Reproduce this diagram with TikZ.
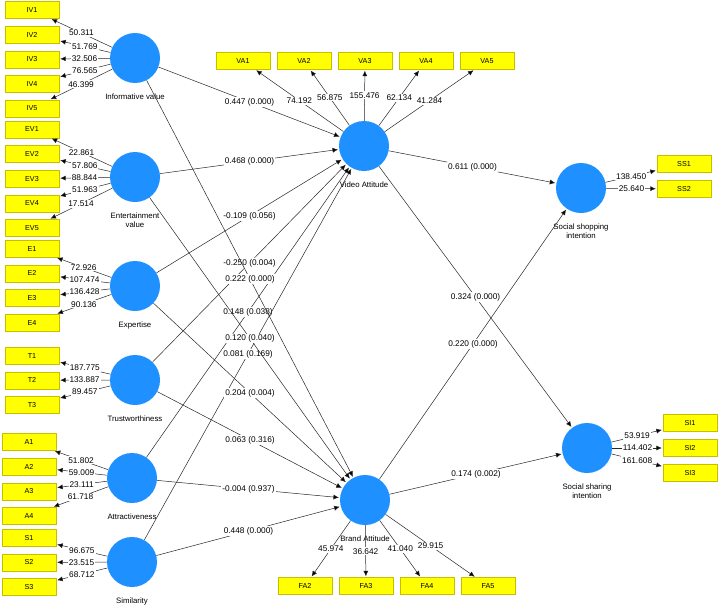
\documentclass[tikz,border=0pt]{standalone}
\usepackage{fontspec}
\setmainfont{Liberation Sans}
\usetikzlibrary{positioning, arrows.meta}

\definecolor{lvblue}{RGB}{30,144,255}
\definecolor{mvyellow}{RGB}{255,255,0}
\definecolor{mvedge}{RGB}{200,190,0}

\begin{document}
\begin{tikzpicture}[x=1pt, y=-1pt, node distance=24.6pt, on grid,
    shorten >=1pt, >={Latex[length=5.5pt,width=5pt]},
    lv/.style={circle, fill=lvblue, minimum size=50pt, inner sep=0pt, label distance=0pt},
    lvname/.style={font=\fontsize{7.8}{9.5}\selectfont, align=center, inner sep=1pt, yshift=-9pt},
    mv/.style={rectangle, fill=mvyellow, draw=mvedge, line width=0.4pt,
      minimum width=54pt, minimum height=17pt, inner sep=0pt, font=\fontsize{7.2}{8}\selectfont},
    coef/.style={fill=white, inner sep=1pt, font=\fontsize{8.3}{9}\selectfont}]
  \useasboundingbox (0,0) rectangle (719,605);

  % latent variables
  \node[lv, label={[lvname]below:Informative value}] (iv) at (135,58) {};
  \node[lv, label={[lvname]below:{Entertainment\\value}}] (ev) at (135,177) {};
  \node[lv, label={[lvname]below:Expertise}] (ex) at (135,286) {};
  \node[lv, label={[lvname]below:Trustworthiness}] (tr) at (135,380) {};
  \node[lv, label={[lvname]below:Attractiveness}] (at) at (132,478) {};
  \node[lv, label={[lvname]below:Similarity}] (sm) at (132,562) {};
  \node[lv, label={[lvname]below:Video Attitude}] (va) at (364,146) {};
  \node[lv, label={[lvname]below:Brand Attitude}] (ba) at (365,500) {};
  \node[lv, label={[lvname]below:{Social shopping\\intention}}] (ssi) at (581,188) {};
  \node[lv, label={[lvname]below:{Social sharing\\intention}}] (shi) at (587,448) {};

  % indicators
  \node[mv] (iv1) at (32,10) {IV1};
  \node[mv] (iv2) [below=of iv1] {IV2};
  \node[mv] (iv3) [below=of iv2] {IV3};
  \node[mv] (iv4) [below=of iv3] {IV4};
  \node[mv] (iv5) [below=of iv4] {IV5};
  \node[mv] (ev1) [below=21pt of iv5] {EV1};
  \node[mv] (ev2) [below=of ev1] {EV2};
  \node[mv] (ev3) [below=of ev2] {EV3};
  \node[mv] (ev4) [below=of ev3] {EV4};
  \node[mv] (ev5) [below=of ev4] {EV5};
  \node[mv] (e1) [below=21pt of ev5] {E1};
  \node[mv] (e2) [below=of e1] {E2};
  \node[mv] (e3) [below=of e2] {E3};
  \node[mv] (e4) [below=of e3] {E4};
  \node[mv] (t1) [below=33pt of e4] {T1};
  \node[mv] (t2) [below=of t1] {T2};
  \node[mv] (t3) [below=of t2] {T3};
  \node[mv] (a1) at (29,442) {A1};
  \node[mv] (a2) [below=of a1] {A2};
  \node[mv] (a3) [below=of a2] {A3};
  \node[mv] (a4) [below=of a3] {A4};
  \node[mv] (s1) [below=22pt of a4] {S1};
  \node[mv] (s2) [below=of s1] {S2};
  \node[mv] (s3) [below=of s2] {S3};
  \node[mv] (va1) at (243,61) {VA1};
  \node[mv] (va2) [right=61pt of va1] {VA2};
  \node[mv] (va3) [right=61pt of va2] {VA3};
  \node[mv] (va4) [right=61pt of va3] {VA4};
  \node[mv] (va5) [right=61pt of va4] {VA5};
  \node[mv] (fa2) at (305,586) {FA2};
  \node[mv] (fa3) [right=61pt of fa2] {FA3};
  \node[mv] (fa4) [right=61pt of fa3] {FA4};
  \node[mv] (fa5) [right=61pt of fa4] {FA5};
  \node[mv] (ss1) at (684,164) {SS1};
  \node[mv] (ss2) [below=25pt of ss1] {SS2};
  \node[mv] (si1) at (690,423) {SI1};
  \node[mv] (si2) [below=25pt of si1] {SI2};
  \node[mv] (si3) [below=25pt of si2] {SI3};

  % outer loadings
  \path[->, draw=black!85, line width=0.5pt]
(iv) edge node[coef] {50.311} (iv1)
(iv) edge node[coef] {51.769} (iv2)
(iv) edge node[coef] {32.506} (iv3)
(iv) edge node[coef] {76.565} (iv4)
(iv) edge node[coef] {46.399} (iv5)
(ev) edge node[coef] {22.861} (ev1)
(ev) edge node[coef] {57.806} (ev2)
(ev) edge node[coef] {88.844} (ev3)
(ev) edge node[coef] {51.963} (ev4)
(ev) edge node[coef] {17.514} (ev5)
(ex) edge node[coef] {72.926} (e1)
(ex) edge node[coef] {107.474} (e2)
(ex) edge node[coef] {136.428} (e3)
(ex) edge node[coef] {90.136} (e4)
(tr) edge node[coef] {187.775} (t1)
(tr) edge node[coef] {133.887} (t2)
(tr) edge node[coef] {89.457} (t3)
(at) edge node[coef] {51.802} (a1)
(at) edge node[coef] {59.009} (a2)
(at) edge node[coef] {23.111} (a3)
(at) edge node[coef] {61.718} (a4)
(sm) edge node[coef] {96.675} (s1)
(sm) edge node[coef] {23.515} (s2)
(sm) edge node[coef] {68.712} (s3)
(va) edge node[coef] {74.192} (va1)
(va) edge node[coef] {56.875} (va2)
(va) edge node[coef] {155.476} (va3)
(va) edge node[coef] {62.134} (va4)
(va) edge node[coef] {41.284} (va5)
(ba) edge node[coef] {45.974} (fa2)
(ba) edge node[coef] {36.642} (fa3)
(ba) edge node[coef] {41.040} (fa4)
(ba) edge node[coef] {29.915} (fa5)
(ssi) edge node[coef] {138.450} (ss1)
(ssi) edge node[coef] {25.640} (ss2)
(shi) edge node[coef] {53.919} (si1)
(shi) edge node[coef] {114.402} (si2)
(shi) edge node[coef] {161.608} (si3)
  ;

  % inner model
  \path[->, draw=black!85, line width=0.5pt]
(iv) edge node[coef] {0.447 (0.000)} (va)
(ev) edge node[coef] {0.468 (0.000)} (va)
(ex) edge node[coef] {-0.109 (0.056)} (va)
(tr) edge node[coef] {-0.250 (0.004)} (va)
(at) edge node[coef] {0.148 (0.038)} (va)
(sm) edge node[coef] {0.081 (0.169)} (va)
(iv) edge node[coef] {0.222 (0.000)} (ba)
(ev) edge node[coef] {0.120 (0.040)} (ba)
(ex) edge node[coef] {0.204 (0.004)} (ba)
(tr) edge node[coef] {0.063 (0.316)} (ba)
(at) edge node[coef] {-0.004 (0.937)} (ba)
(sm) edge node[coef] {0.448 (0.000)} (ba)
(va) edge node[coef] {0.611 (0.000)} (ssi)
(va) edge node[coef] {0.324 (0.000)} (shi)
(ba) edge node[coef] {0.220 (0.000)} (ssi)
(ba) edge node[coef] {0.174 (0.002)} (shi)
  ;
\end{tikzpicture}
\end{document}
